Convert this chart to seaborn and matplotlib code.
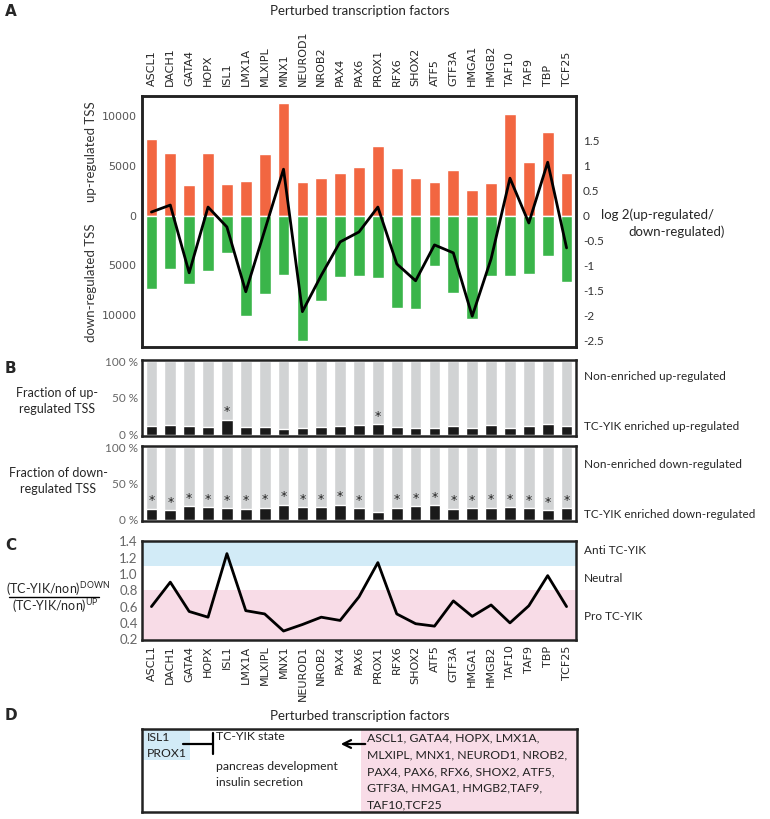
import numpy as np
import matplotlib.pyplot as plt
import seaborn as sns
from matplotlib.lines import Line2D
from matplotlib.patches import Rectangle
from matplotlib.ticker import FuncFormatter

# perturbed TFs
tfs = ['ASCL1', 'DACH1', 'GATA4', 'HOPX', 'ISL1', 'LMX1A', 'MLXIPL', 'MNX1',
       'NEUROD1', 'NROB2', 'PAX4', 'PAX6', 'PROX1', 'RFX6', 'SHOX2', 'ATF5',
       'GTF3A', 'HMGA1', 'HMGB2', 'TAF10', 'TAF9', 'TBP', 'TCF25']

# A: number of up / down regulated TSS and log2 ratio
up_tss = [7670, 6230, 3100, 6230, 3170, 3500, 6130, 11330, 3330, 3770, 4300, 4900,
          7030, 4730, 3770, 3330, 4600, 2570, 3300, 10230, 5330, 8430, 4230]
down_tss = [7330, 5400, 6870, 5600, 3770, 10070, 7870, 5930, 12630, 8570, 6170, 6070,
            6270, 9270, 9400, 5100, 7730, 10400, 6070, 6070, 5870, 4030, 6670]
log2_ratio = [0.07, 0.21, -1.15, 0.17, -0.23, -1.53, -0.30, 0.93, -1.93, -1.20, -0.53, -0.33,
              0.17, -0.97, -1.31, -0.59, -0.75, -2.02, -0.87, 0.75, -0.15, 1.07, -0.65]

# B: % of TC-YIK enriched TSS
enr_up = [11.5, 13.8, 12.4, 11.0, 20.7, 11.0, 11.0, 8.3, 9.7, 11.0, 11.5, 13.8,
          14.7, 11.0, 10.0, 10.0, 12.4, 10.0, 13.4, 9.2, 12.4, 14.7, 11.5]
enr_down = [15.3, 13.0, 18.5, 17.6, 16.2, 15.3, 16.7, 20.8, 17.6, 17.6, 20.8, 15.7,
            11.1, 16.7, 19.0, 20.4, 15.3, 15.7, 16.7, 17.6, 15.7, 13.0, 15.7]
sig_up = ['ISL1', 'PROX1']
sig_down = [t for t in tfs if t != 'PROX1']

# C: (TC-YIK/non)down / (TC-YIK/non)up
enr_ratio = [0.60, 0.90, 0.54, 0.47, 1.25, 0.55, 0.51, 0.30, 0.38, 0.47, 0.43, 0.72,
             1.14, 0.51, 0.39, 0.36, 0.67, 0.48, 0.62, 0.40, 0.61, 0.98, 0.60]

sns.set_theme(style='white')
plt.rcParams['font.family'] = ['Lato', 'DejaVu Sans']
plt.rcParams['mathtext.fontset'] = 'custom'
plt.rcParams['mathtext.rm'] = 'Lato'
plt.rcParams['mathtext.it'] = 'Lato'

W, H = 770, 819
fig = plt.figure(figsize=(W / 100, H / 100), dpi=100)

def add_ax(l, t, r, b):
    return fig.add_axes([l / W, 1 - b / H, (r - l) / W, (b - t) / H])

def ftext(x, y, s, **kw):
    kw.setdefault('va', 'center')
    kw.setdefault('ha', 'left')
    kw.setdefault('fontsize', 8.5)
    fig.text(x / W, 1 - y / H, s, **kw)

def frame(ax):
    for sp in ax.spines.values():
        sp.set_visible(True)
        sp.set_linewidth(1.8)
        sp.set_color('#222222')

x = np.arange(len(tfs))
orange = '#F26641'
green = '#3AB54A'
bw = 0.62
grey_tick = '#555555'

# ---------------- A ----------------
axA = add_ax(142, 96, 576, 347)
sns.barplot(x=tfs, y=up_tss, color=orange, saturation=1, width=bw, ax=axA)
sns.barplot(x=tfs, y=[-v for v in down_tss], color=green, saturation=1, width=bw, ax=axA)
axA.set_ylim(-13200, 12000)
axA.set_yticks([-10000, -5000, 0, 5000, 10000])
axA.yaxis.set_major_formatter(FuncFormatter(lambda v, p: f'{abs(int(v))}'))
axA.tick_params(axis='y', length=0, pad=4, labelsize=8, labelcolor=grey_tick)
for lab in axA.get_yticklabels():
    lab.set_family('DejaVu Sans')
axA.xaxis.tick_top()
axA.set_xticks(x)
axA.set_xticklabels(tfs, rotation=90, family='DejaVu Sans', fontsize=8)
axA.tick_params(axis='x', length=0, pad=7, labelsize=8)
axA.set_xlim(-0.5, len(tfs) - 0.5)
frame(axA)

axA2 = axA.twinx()
sns.lineplot(x=x, y=log2_ratio, color='black', lw=2, sort=False, ax=axA2)
axA2.set_ylim(-2.64, 2.4)
axA2.set_yticks([-2.5, -2, -1.5, -1, -0.5, 0, 0.5, 1, 1.5])
axA2.yaxis.set_major_formatter(FuncFormatter(lambda v, p: f'{v:g}'))
axA2.tick_params(axis='y', length=0, pad=5, labelsize=8.5, labelcolor='#333333')
axA2.set_xlim(-0.5, len(tfs) - 0.5)
frame(axA2)

ftext(5, 11, 'A', fontweight='bold', fontsize=11, family='DejaVu Sans')
ftext(360, 11, 'Perturbed transcription factors', ha='center', fontsize=9.5)
ftext(91, 152, 'up-regulated TSS', rotation=90, ha='center', fontsize=9.5, color='#333333')
ftext(91, 283, 'down-regulated TSS', rotation=90, ha='center', fontsize=9.5, color='#333333')
ftext(601, 215, 'log 2(up-regulated/', fontsize=9.5)
ftext(628, 232, 'down-regulated)', fontsize=9.5)

# ---------------- B ----------------
def frac_panel(box, enr, sig):
    ax = add_ax(*box)
    sns.barplot(x=tfs, y=[100] * len(tfs), color='#D1D3D4', saturation=1, width=bw, ax=ax)
    sns.barplot(x=tfs, y=enr, color='#1A1A1A', saturation=1, width=bw, ax=ax)
    for i, t in enumerate(tfs):
        if t in sig:
            ax.text(i, enr[i] + 2, '*', ha='center', va='bottom', fontsize=9,
                    family='DejaVu Sans', color='#222222')
    ax.set_ylim(-1.5, 101.5)
    ax.set_xlim(-0.5, len(tfs) - 0.5)
    ax.set_yticks([0, 50, 100])
    ax.set_yticklabels(['0 %', '50 %', '100 %'])
    ax.tick_params(axis='y', length=0, pad=3, labelsize=8.5, labelcolor='#666666')
    ax.set_xticks([])
    frame(ax)
    return ax

frac_panel((142, 360, 576, 436), enr_up, sig_up)
frac_panel((142, 446, 576, 521), enr_down, sig_down)

ftext(5, 369, 'B', fontweight='bold', fontsize=11, family='DejaVu Sans')
ftext(57, 401, 'Fraction of up-\nregulated TSS', ha='center', multialignment='center',
      fontsize=9, linespacing=1.35)
ftext(58, 481, 'Fraction of down-\nregulated TSS', ha='center', multialignment='center',
      fontsize=9, linespacing=1.35)
ftext(584, 377, 'Non-enriched up-regulated')
ftext(584, 426, 'TC-YIK enriched up-regulated')
ftext(584, 465, 'Non-enriched down-regulated')
ftext(584, 515, 'TC-YIK enriched down-regulated')

# ---------------- C ----------------
axC = add_ax(142, 541, 576, 640)
axC.axhspan(1.1, 1.45, color='#D2EBF7', lw=0)
axC.axhspan(0.1, 0.8, color='#F8DCE7', lw=0)
sns.lineplot(x=x, y=enr_ratio, color='black', lw=2, sort=False, ax=axC)
axC.set_ylim(0.19, 1.405)
axC.set_xlim(-0.5, len(tfs) - 0.5)
axC.set_yticks([0.2, 0.4, 0.6, 0.8, 1.0, 1.2, 1.4])
axC.yaxis.set_major_formatter(FuncFormatter(lambda v, p: f'{v:.1f}'))
axC.tick_params(axis='y', length=0, pad=3, labelsize=9.5, labelcolor='#666666')
axC.set_xticks(x)
axC.set_xticklabels(tfs, rotation=90, family='DejaVu Sans', fontsize=8)
axC.tick_params(axis='x', length=0, pad=4)
frame(axC)

ftext(5, 545, 'C', fontweight='bold', fontsize=11, family='DejaVu Sans')
ftext(58, 589, r'(TC-YIK/non)$^{\mathrm{DOWN}}$', ha='center', fontsize=9)
ftext(55, 606, r'(TC-YIK/non)$^{\mathrm{UP}}$', ha='center', fontsize=9)
fig.add_artist(Line2D([9 / W, 99 / W], [1 - 597 / H, 1 - 597 / H], color='black', lw=1))
ftext(584, 551, 'Anti TC-YIK')
ftext(584, 578, 'Neutral')
ftext(584, 617, 'Pro TC-YIK')

# ---------------- D ----------------
ftext(5, 716, 'D', fontweight='bold', fontsize=11, family='DejaVu Sans')
ftext(360, 716, 'Perturbed transcription factors', ha='center', fontsize=9.5)

axD = add_ax(142, 729, 577, 812)
axD.set_xlim(142, 577)
axD.set_ylim(812, 729)
axD.set_xticks([])
axD.set_yticks([])
axD.add_patch(Rectangle((361, 729), 216, 83, color='#F8DCE7', lw=0))
axD.add_patch(Rectangle((142, 729), 48, 31, color='#D2EBF7', lw=0))
frame(axD)

dtxt = dict(fontsize=8.8, va='center', ha='left', color='#222222')
axD.text(147, 738, 'ISL1', **dtxt)
axD.text(147, 754, 'PROX1', **dtxt)
axD.plot([183, 213], [744, 744], color='black', lw=1.6)
axD.plot([213, 213], [733, 754], color='black', lw=1.6)
axD.text(216, 737, 'TC-YIK state', **dtxt)
axD.text(216, 767, 'pancreas development', **dtxt)
axD.text(216, 783, 'insulin secretion', **dtxt)
axD.annotate('', xy=(338, 744), xytext=(368, 744),
             arrowprops=dict(arrowstyle='->', lw=1.6, color='black', mutation_scale=14))
tf_lines = ['ASCL1, GATA4, HOPX, LMX1A,', 'MLXIPL, MNX1, NEUROD1, NROB2,',
            'PAX4, PAX6, RFX6, SHOX2, ATF5,', 'GTF3A, HMGA1, HMGB2,TAF9,', 'TAF10,TCF25']
for k, s in enumerate(tf_lines):
    axD.text(367, 738 + 16.8 * k, s, **dtxt)

fig.savefig('out.png', dpi=100)
